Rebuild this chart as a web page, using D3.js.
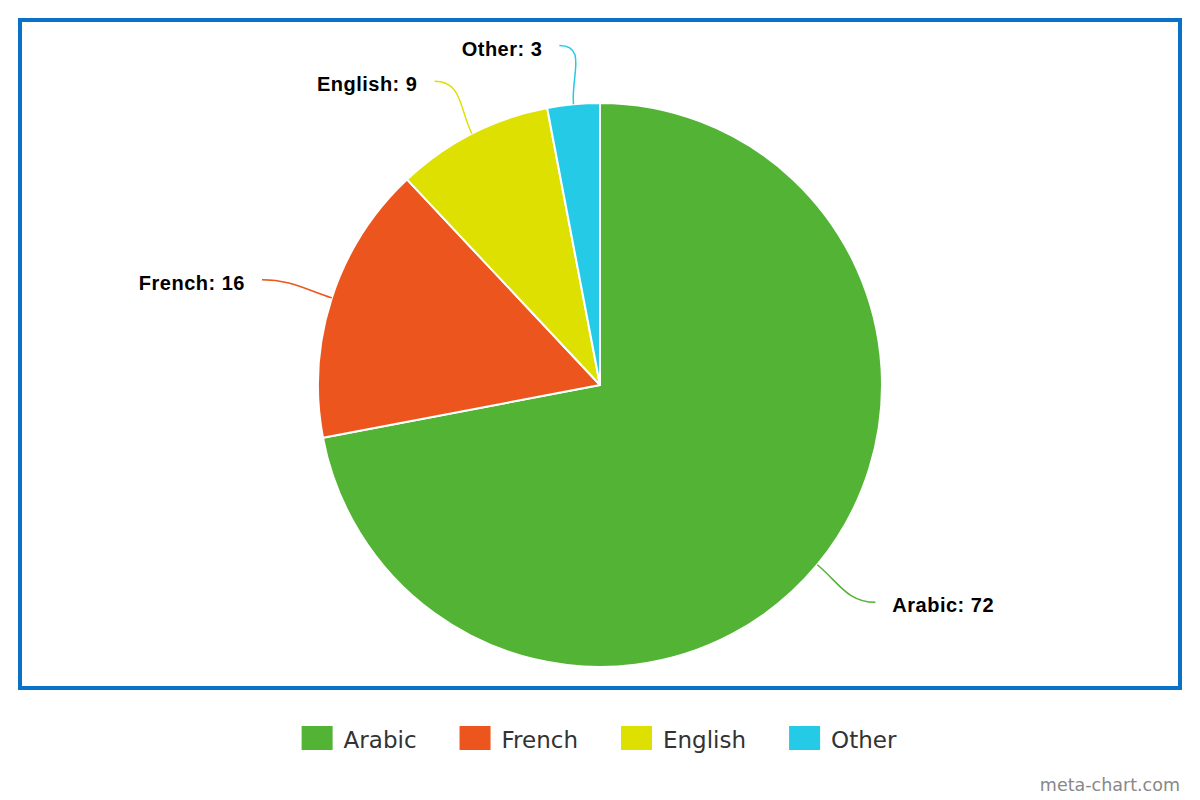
<!DOCTYPE html>
<html>
<head>
<meta charset="utf-8">
<script src="https://cdn.jsdelivr.net/npm/d3@7"></script>
<style>
  html, body { margin: 0; padding: 0; background: #fff; }
  svg { display: block; }
</style>
</head>
<body>
<svg id="chart" width="1200" height="800"></svg>
<script>
const categories = ["Arabic", "French", "English", "Other"];
const values = [72, 16, 9, 3];
const colors = ["#52b334", "#ec561e", "#dde000", "#25cbe6"];

const svg = d3.select("#chart");
const W = 1200, H = 800;
const cx = 600, cy = 385, r = 282;

// frame
svg.append("rect")
  .attr("x", 20).attr("y", 20).attr("width", 1160).attr("height", 668)
  .attr("fill", "none").attr("stroke", "#0a72c6").attr("stroke-width", 4);

const data = categories.map((c, i) => ({ cat: c, value: values[i], color: colors[i] }));

const pie = d3.pie().value(d => d.value).sort(null);
const arcs = pie(data);
const arc = d3.arc().innerRadius(0).outerRadius(r);

const g = svg.append("g").attr("transform", `translate(${cx},${cy})`);

g.selectAll("path.slice")
  .data(arcs)
  .enter().append("path")
  .attr("class", "slice")
  .attr("d", arc)
  .attr("fill", d => d.data.color)
  .attr("stroke", "#fff")
  .attr("stroke-width", 2)
  .attr("stroke-linejoin", "round");

// labels with curved connectors
arcs.forEach(d => {
  const a = (d.startAngle + d.endAngle) / 2;
  const right = Math.sin(a) >= 0;
  const dir = right ? 1 : -1;
  const sx = r * Math.sin(a), sy = -r * Math.cos(a);
  const ex = (r + 65) * Math.sin(a) + dir * 8;
  const ey = -(r + 59) * Math.cos(a);
  const c1x = (r + 28) * Math.sin(a), c1y = -(r + 28) * Math.cos(a);
  const c2x = ex - dir * 28, c2y = ey;
  g.append("path")
    .attr("d", `M${sx},${sy} C${c1x},${c1y} ${c2x},${c2y} ${ex},${ey}`)
    .attr("fill", "none")
    .attr("stroke", d.data.color)
    .attr("stroke-width", 1.5);
  g.append("text")
    .attr("x", ex + dir * 17)
    .attr("y", ey + 3)
    .attr("dy", "0.35em")
    .attr("text-anchor", right ? "start" : "end")
    .attr("font-family", "'Liberation Sans', Arial, Helvetica, sans-serif")
    .attr("font-weight", "bold")
    .attr("font-size", 20)
    .attr("letter-spacing", "0.5px")
    .attr("fill", "#000")
    .text(`${d.data.cat}: ${d.data.value}`);
});

// legend
const legendFont = "'DejaVu Sans', Verdana, sans-serif";
const legend = svg.append("g");
const items = [];
let xPos = 0;
const sq = 31, textOff = 42, gap = 43;
const tmp = svg.append("text").attr("font-family", legendFont).attr("font-size", 23);
data.forEach(d => {
  tmp.text(d.cat);
  const w = tmp.node().getComputedTextLength();
  items.push({ d, x: xPos, w });
  xPos += textOff + w + gap;
});
tmp.remove();
const totalW = xPos - gap;
const lx0 = (W - totalW) / 2 - 1;
items.forEach(it => {
  const gi = legend.append("g").attr("transform", `translate(${lx0 + it.x},0)`);
  gi.append("rect").attr("x", 0).attr("y", 726).attr("width", sq).attr("height", 24)
    .attr("fill", it.d.color);
  gi.append("text").attr("x", textOff).attr("y", 748)
    .attr("font-family", legendFont).attr("font-size", 23).attr("fill", "#333")
    .text(it.d.cat);
});

// watermark
svg.append("text")
  .attr("x", 1180).attr("y", 791)
  .attr("text-anchor", "end")
  .attr("font-family", legendFont)
  .attr("font-size", 17.5)
  .attr("fill", "#888")
  .text("meta-chart.com");
</script>
</body>
</html>
